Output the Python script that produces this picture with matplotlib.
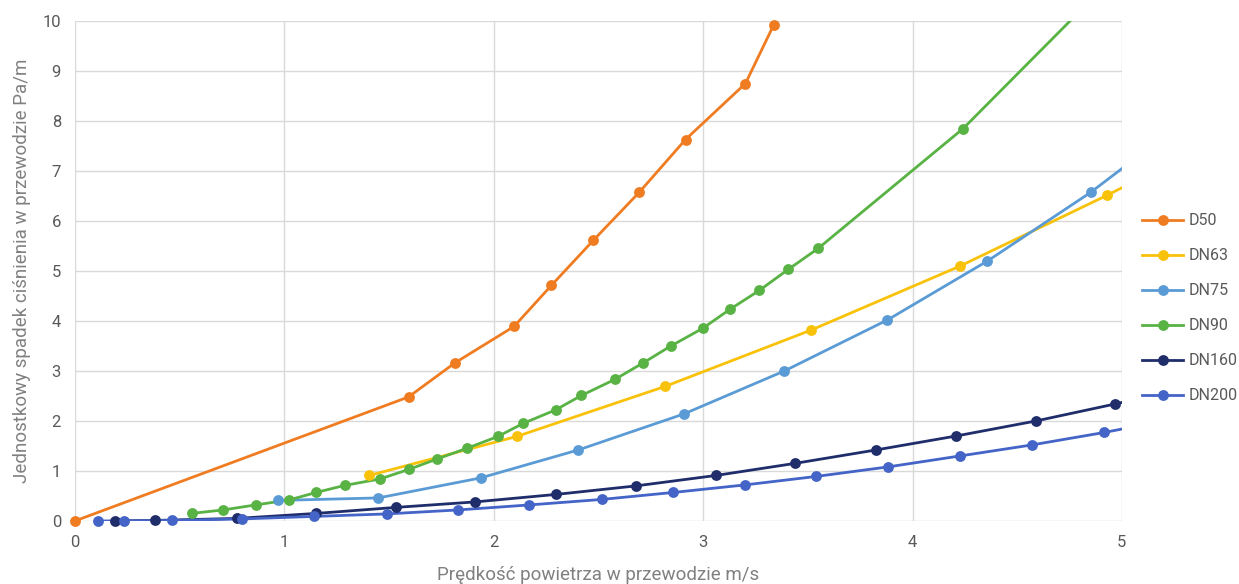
import matplotlib
matplotlib.use("Agg")
import matplotlib.pyplot as plt
from matplotlib.lines import Line2D

# values (last point of some series lies outside the axis and is clipped)
d50_x = [0, 1.593, 1.814, 2.097, 2.275, 2.475, 2.694, 2.916, 3.202, 3.338]
d50_y = [0, 2.48, 3.16, 3.89, 4.71, 5.61, 6.57, 7.63, 8.75, 9.93]

dn63_x = [1.406, 2.11, 2.818, 3.517, 4.228, 4.927, 5.63]
dn63_y = [0.91, 1.69, 2.69, 3.82, 5.10, 6.51, 8.0]

dn75_x = [0.968, 1.449, 1.937, 2.404, 2.908, 3.388, 3.88, 4.358, 4.85, 5.33]
dn75_y = [0.41, 0.46, 0.86, 1.42, 2.14, 3.00, 4.02, 5.20, 6.57, 8.1]

dn90_x = [0.557, 0.708, 0.863, 1.023, 1.152, 1.288, 1.457, 1.594, 1.73, 1.87,
          2.02, 2.14, 2.295, 2.419, 2.578, 2.713, 2.846, 2.997, 3.127, 3.268,
          3.406, 3.549, 4.242, 4.93]
dn90_y = [0.15, 0.22, 0.32, 0.42, 0.57, 0.71, 0.84, 1.03, 1.24, 1.45,
          1.69, 1.95, 2.22, 2.51, 2.83, 3.16, 3.50, 3.85, 4.23, 4.61,
          5.03, 5.45, 7.85, 10.75]

dn160_x = [0.191, 0.382, 0.772, 1.151, 1.531, 1.91, 2.297, 2.678, 3.062, 3.437,
           3.826, 4.21, 4.59, 4.968, 5.35]
dn160_y = [0, 0.01, 0.05, 0.15, 0.27, 0.38, 0.53, 0.70, 0.91, 1.15,
           1.42, 1.70, 2.00, 2.34, 2.70]

dn200_x = [0.111, 0.234, 0.462, 0.80, 1.141, 1.488, 1.831, 2.17, 2.516, 2.858,
           3.199, 3.54, 3.882, 4.227, 4.57, 4.916, 5.26]
dn200_y = [0, 0, 0.01, 0.04, 0.09, 0.14, 0.22, 0.32, 0.43, 0.57,
           0.72, 0.89, 1.08, 1.30, 1.52, 1.77, 2.05]

series = [
    ("D50", d50_x, d50_y, "#F07C22"),
    ("DN63", dn63_x, dn63_y, "#F9C20A"),
    ("DN75", dn75_x, dn75_y, "#5B9BD5"),
    ("DN90", dn90_x, dn90_y, "#58B344"),
    ("DN160", dn160_x, dn160_y, "#1F2D6B"),
    ("DN200", dn200_x, dn200_y, "#4464C8"),
]

XMAX, YMAX = 5, 10

plt.rcParams['font.family'] = ['Roboto', 'DejaVu Sans']

fig = plt.figure(figsize=(12.39, 5.84), dpi=100)
ax = fig.add_axes([0.0605, 0.108, 0.845, 0.856])

handles = []
for name, xs, ys, col in series:
    # line is clipped at the plot edge, markers inside the range are drawn whole
    ax.plot(xs, ys, color=col, lw=2.0, zorder=3)
    pts = [(x, y) for x, y in zip(xs, ys) if x <= XMAX and y <= YMAX]
    ax.plot([p[0] for p in pts], [p[1] for p in pts], ls='none', marker='o',
            markersize=7.8, markeredgewidth=0, color=col, zorder=4, clip_on=False)
    handles.append(Line2D([], [], color=col, lw=2.0, marker='o',
                          markersize=7.8, markeredgewidth=0, label=name))

ax.set_xlim(0, XMAX)
ax.set_ylim(0, YMAX)
ax.set_xticks(range(0, 6))
ax.set_yticks(range(0, 11))
ax.grid(True, color='#d9d9d9', lw=1.0, zorder=0)
for s in ax.spines.values():
    s.set_visible(False)
ax.tick_params(length=0, labelsize=12, colors='#595959', pad=10)

ax.set_xlabel("Prędkość powietrza w przewodzie m/s", fontsize=13.5,
              color='#808080', labelpad=12)
ax.set_ylabel("Jednostkowy spadek ciśnienia w przewodzie Pa/m", fontsize=13.5,
              color='#808080', labelpad=8)

leg = ax.legend(handles=handles, loc='upper left', bbox_to_anchor=(1.013, 0.628),
                frameon=False, fontsize=11.5, handlelength=2.6, handletextpad=0.3,
                labelspacing=1.25, borderaxespad=0, numpoints=1)
for t in leg.get_texts():
    t.set_color('#595959')

fig.savefig("out.png", dpi=100)
